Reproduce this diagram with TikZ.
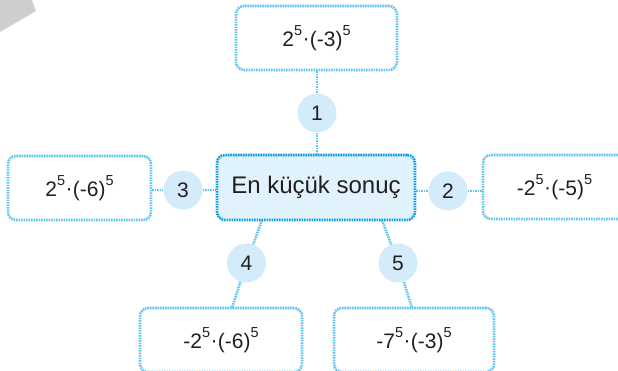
\documentclass[tikz,border=0pt]{standalone}
\usepackage{fontspec}
\setmainfont{Liberation Sans}
\usetikzlibrary{backgrounds}
\definecolor{dotlight}{RGB}{95,198,243}
\definecolor{dotdark}{RGB}{15,155,225}
\definecolor{circfill}{RGB}{212,235,250}
\definecolor{ctrfill}{RGB}{224,243,252}
\definecolor{bandgray}{RGB}{206,206,206}
\definecolor{txt}{RGB}{35,31,32}
\newcommand{\myexp}[1]{\raisebox{0.5em}{\fontsize{14.5}{15}\selectfont #1}}
\newcommand{\cdt}{\kern0.02em\raisebox{0.03em}{·}\kern0.02em}
\tikzset{
  dotline/.style={draw=dotlight, line width=2.6pt, dash pattern=on 1.6pt off 0.9pt},
  exprbox/.style={dotline, rounded corners=8pt, fill=white, inner sep=0pt,
    text=txt, font=\fontsize{21}{24}\selectfont},
  ctrbox/.style={draw=dotdark, line width=2.6pt, dash pattern=on 1.6pt off 0.9pt,
    rounded corners=8pt, fill=ctrfill, inner sep=0pt, text=txt, font=\fontsize{24}{28}\selectfont},
  numcirc/.style={circle, fill=circfill, minimum size=39pt, inner sep=0pt,
    text=txt, font=\fontsize{21}{24}\selectfont},
}
\begin{document}
\begin{tikzpicture}[x=1pt, y=-1pt]
\useasboundingbox (0,0) rectangle (618,371);
\clip (0,0) rectangle (618,371);
\fill[bandgray] (0,0) -- (32,0) -- (36,11) -- (0,32) -- cycle;
% boxes
\node[exprbox, minimum width=161pt, minimum height=64pt] (top) at (316.5,38) {2\myexp{5}\cdt(-3)\myexp{5}};
\node[ctrbox, minimum width=198pt, minimum height=65pt] (ctr) at (316,187.5) {En küçük sonuç};
\node[exprbox, minimum width=143pt, minimum height=64pt] (lft) at (79.5,188) {2\myexp{5}\cdt(-6)\myexp{5}};
\node[exprbox, minimum width=143pt, minimum height=64pt] (rgt) at (554.5,187) {-2\myexp{5}\cdt(-5)\myexp{5}};
\node[exprbox, minimum width=162pt, minimum height=64pt] (bl) at (221,340) {-2\myexp{5}\cdt(-6)\myexp{5}};
\node[exprbox, minimum width=160pt, minimum height=64pt] (br) at (414,340) {-7\myexp{5}\cdt(-3)\myexp{5}};
% circles
\node[numcirc] (c1) at (317,113) {1};
\node[numcirc] (c2) at (448,191) {2};
\node[numcirc] (c3) at (183,190) {3};
\node[numcirc] (c4) at (246.5,263) {4};
\node[numcirc] (c5) at (398,263) {5};
% attachment points
\coordinate (a4) at (262,220);
\coordinate (b4) at (232,308);
\coordinate (a5) at (382,220);
\coordinate (b5) at (412,308);
\begin{scope}[on background layer]
\draw[dotline] (top.south -| c1) -- (c1) -- (ctr.north -| c1);
\draw[dotline] (lft.east |- c3) -- (c3) -- (ctr.west |- c3);
\draw[dotline] (ctr.east |- c2) -- (c2) -- (rgt.west |- c2);
\draw[dotline] (a4) -- (c4) -- (b4);
\draw[dotline] (a5) -- (c5) -- (b5);
\end{scope}
\end{tikzpicture}
\end{document}
